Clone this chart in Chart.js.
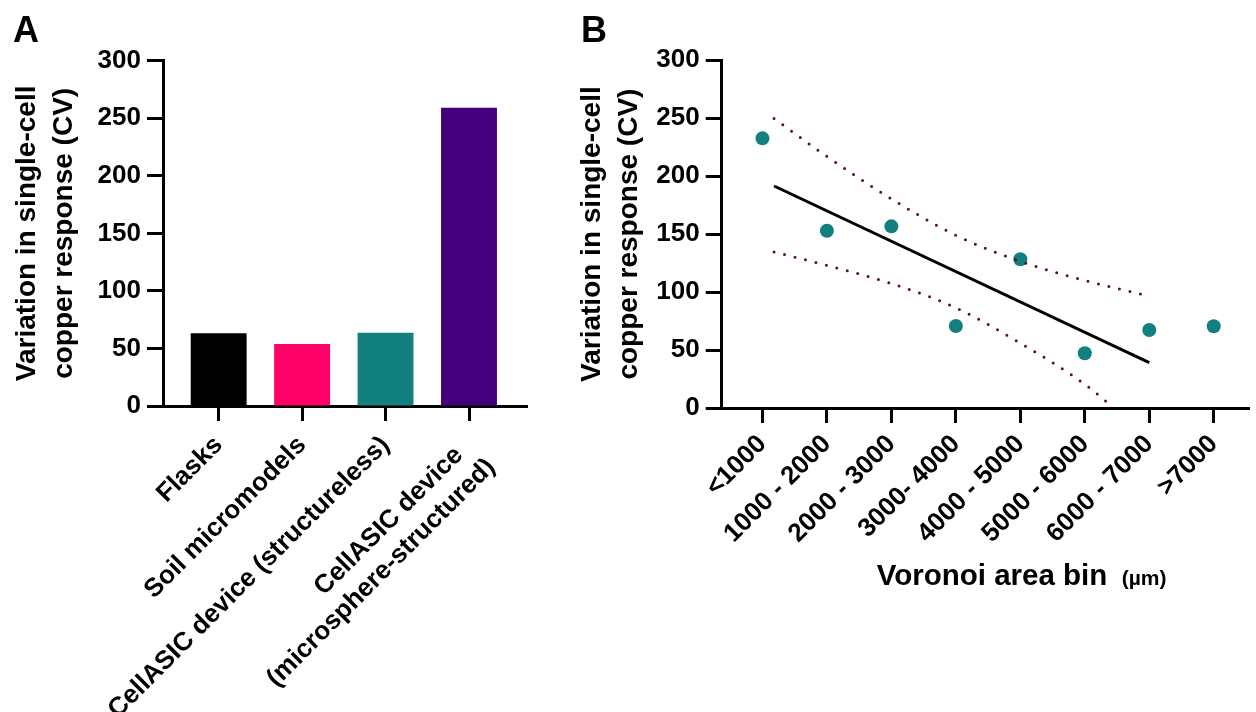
<!DOCTYPE html>
<html lang="en">
<head>
    <meta charset="UTF-8">
    <meta name="viewport" content="width=device-width, initial-scale=1.0">
    <title>Variation in single-cell copper response</title>
    <script src="https://cdn.jsdelivr.net/npm/chart.js"></script>
    <style>
        body {
            margin: 0;
            background-color: #ffffff;
            font-family: "Liberation Sans", Arial, sans-serif;
        }

        .wrap {
            position: relative;
            width: 1256px;
            height: 712px;
            overflow: hidden;
        }

        .panel {
            position: absolute;
            top: 0;
            height: 712px;
        }

        #boxA { left: 0; width: 560px; }
        #boxB { left: 560px; width: 696px; }

        .tag {
            position: absolute;
            font-size: 36px;
            line-height: 36px;
            font-weight: bold;
            color: #000;
        }
    </style>
</head>
<body>
    <div class="wrap">
        <div class="panel" id="boxA"><canvas id="chartA"></canvas></div>
        <div class="panel" id="boxB"><canvas id="chartB"></canvas></div>
        <div class="tag" style="left:13px; top:12px;">A</div>
        <div class="tag" style="left:581px; top:12px;">B</div>
    </div>

    <script>
        // --- panel A: bar chart ---
        // (two trailing spaces pull the first line of the last label back, like the centred original)
        const groupsA = ['Flasks', 'Soil micromodels', 'CellASIC device (structureless)', ['CellASIC device  ', '(microsphere-structured)']];
        const cvA = [63.2, 53.9, 63.7, 259.1];
        const coloursA = ['#000000', '#ff0066', '#12807e', '#42007c'];

        // --- panel B: CV per Voronoi area bin + linear fit with 95% band ---
        const binsB = ['<1000', '1000 - 2000', '2000 - 3000', '3000- 4000', '4000 - 5000', '5000 - 6000', '6000 - 7000', '>7000'];
        const cvB = [232.6, 152.9, 156.7, 70.7, 128.3, 47.2, 67.3, 70.5];
        const fitX = [1.18, 7];
        const fitY = [191.5, 39.2];
        const upperX = [1.18, 2, 3, 4, 5, 6, 6.95];
        const upperY = [249.7, 217, 180.4, 149, 126.5, 110, 97.2];
        const lowerX = [1.18, 2, 3, 4, 5, 6, 6.45];
        const lowerY = [134.6, 123, 107.4, 86.4, 56, 20.5, 0];

        const yTicks = [0, 50, 100, 150, 200, 250, 300];
        const yTitle = ['Variation in single-cell', 'copper response (CV)'];

        const FONT = '"Liberation Sans", Arial, sans-serif';
        Chart.defaults.font.family = FONT;
        Chart.defaults.color = '#000';

        function yAxis(width, titlePad) {
            return {
                min: 0,
                max: 300,
                afterBuildTicks: s => { s.ticks = yTicks.map(v => ({ value: v })); },
                afterFit: s => { s.width = width; },
                ticks: { font: { size: 26, weight: 'bold' }, padding: 6 },
                grid: { drawOnChartArea: false, tickLength: 16, tickWidth: 3, tickColor: '#000' },
                border: { color: '#000', width: 3 },
                title: {
                    display: true,
                    text: yTitle,
                    font: { size: 28, weight: 'bold', lineHeight: 1.3 },
                    padding: { top: titlePad, bottom: 0 }
                }
            };
        }

        function xAxis(labels, min, max, height, pad) {
            return {
                type: 'linear',
                offset: false,
                min: min,
                max: max,
                afterBuildTicks: s => { s.ticks = labels.map((_, i) => ({ value: i + 1 })); },
                afterFit: s => { s.height = height; },
                ticks: {
                    callback: (v, i) => labels[i],
                    autoSkip: false,
                    minRotation: 45,
                    maxRotation: 45,
                    padding: pad,
                    font: { size: 26, weight: 'bold' }
                },
                grid: { offset: false, drawOnChartArea: false, tickLength: 15, tickWidth: 3, tickColor: '#000' },
                border: { color: '#000', width: 3 }
            };
        }

        new Chart(document.getElementById('chartA'), {
            type: 'bar',
            data: {
                datasets: [{
                    data: cvA.map((v, i) => ({ x: i + 1, y: v })),
                    backgroundColor: coloursA,
                    borderWidth: 0,
                    categoryPercentage: 1,
                    barPercentage: 0.67
                }]
            },
            options: {
                responsive: true,
                maintainAspectRatio: false,
                animation: false,
                layout: { padding: { top: 60.7, right: 33, bottom: 0, left: 0 } },
                plugins: { legend: { display: false }, tooltip: { enabled: false } },
                scales: {
                    x: xAxis(groupsA, 0.333, 4.695, 712 - 406, 9),
                    y: yAxis(163, 9.5)
                }
            }
        });

        // x title of panel B has a smaller unit part, so it is written by hand
        const unitTitle = {
            id: 'unitTitle',
            afterDraw(chart) {
                const ctx = chart.ctx;
                const left = chart.chartArea.left;
                ctx.save();
                ctx.fillStyle = '#000';
                ctx.textBaseline = 'alphabetic';
                ctx.textAlign = 'left';
                ctx.font = 'bold 29.5px ' + FONT;
                ctx.fillText('Voronoi area bin', left + 155, 585);
                ctx.font = 'bold 21px ' + FONT;
                ctx.fillText('(µm)', left + 400, 585);
                ctx.restore();
            }
        };

        new Chart(document.getElementById('chartB'), {
            type: 'scatter',
            data: {
                datasets: [
                    {
                        data: upperX.map((x, i) => ({ x: x, y: upperY[i] })),
                        showLine: true,
                        borderColor: '#5e0a36',
                        borderWidth: 3,
                        borderDash: [0, 10.8],
                        borderCapStyle: 'round',
                        cubicInterpolationMode: 'monotone',
                        pointRadius: 0,
                        order: 0
                    },
                    {
                        data: lowerX.map((x, i) => ({ x: x, y: lowerY[i] })),
                        showLine: true,
                        borderColor: '#5e0a36',
                        borderWidth: 3,
                        borderDash: [0, 10.8],
                        borderCapStyle: 'round',
                        cubicInterpolationMode: 'monotone',
                        pointRadius: 0,
                        order: 0
                    },
                    {
                        data: fitX.map((x, i) => ({ x: x, y: fitY[i] })),
                        showLine: true,
                        borderColor: '#000',
                        borderWidth: 3,
                        pointRadius: 0,
                        order: 1
                    },
                    {
                        data: cvB.map((v, i) => ({ x: i + 1, y: v })),
                        backgroundColor: '#12807e',
                        borderWidth: 0,
                        pointRadius: 7,
                        order: 2
                    }
                ]
            },
            options: {
                responsive: true,
                maintainAspectRatio: false,
                animation: false,
                layout: { padding: { top: 60.2, right: 0, bottom: 0, left: 0 } },
                plugins: { legend: { display: false }, tooltip: { enabled: false } },
                scales: {
                    x: xAxis(binsB, 0.368, 8.547, 712 - 408, 6),
                    y: yAxis(161.7, 14.5)
                }
            },
            plugins: [unitTitle]
        });
    </script>
</body>
</html>
